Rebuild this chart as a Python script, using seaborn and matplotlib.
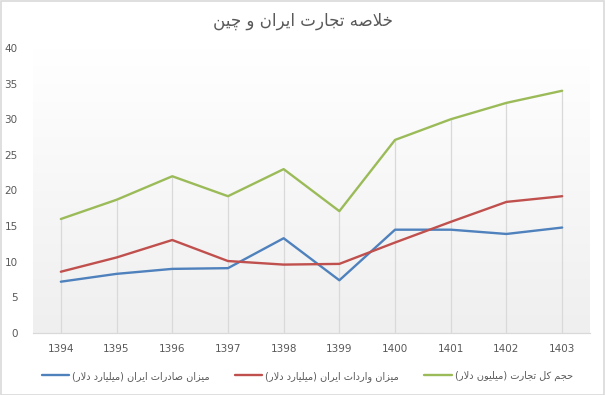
import numpy as np
import pandas as pd
import matplotlib
matplotlib.use("Agg")
import matplotlib.pyplot as plt
from matplotlib.colors import LinearSegmentedColormap
import seaborn as sns

years = ["1394", "1395", "1396", "1397", "1398", "1399", "1400", "1401", "1402", "1403"]
exports = [7.2, 8.3, 9.0, 9.1, 13.3, 7.4, 14.5, 14.5, 13.9, 14.8]
imports = [8.6, 10.6, 13.05, 10.1, 9.6, 9.7, 12.7, 15.6, 18.4, 19.2]
total = [16.0, 18.7, 22.0, 19.2, 23.0, 17.1, 27.1, 30.0, 32.3, 34.0]

title_fa = "خلاصه تجارت ایران و چین"
label_exports = "میزان صادرات ایران (میلیارد دلار)"
label_imports = "میزان واردات ایران (میلیارد دلار)"
label_total = "حجم کل تجارت (میلیون دلار)"

colors = ["#4f81bd", "#c0504d", "#9bbb59"]

# presentation forms: isolated, final, initial, medial (None = right-joining only)
FORMS = {
    "ا": (0xFE8D, 0xFE8E, None, None),
    "ب": (0xFE8F, 0xFE90, 0xFE91, 0xFE92),
    "ت": (0xFE95, 0xFE96, 0xFE97, 0xFE98),
    "ج": (0xFE9D, 0xFE9E, 0xFE9F, 0xFEA0),
    "ح": (0xFEA1, 0xFEA2, 0xFEA3, 0xFEA4),
    "خ": (0xFEA5, 0xFEA6, 0xFEA7, 0xFEA8),
    "د": (0xFEA9, 0xFEAA, None, None),
    "ر": (0xFEAD, 0xFEAE, None, None),
    "ز": (0xFEAF, 0xFEB0, None, None),
    "ص": (0xFEB9, 0xFEBA, 0xFEBB, 0xFEBC),
    "ل": (0xFEDD, 0xFEDE, 0xFEDF, 0xFEE0),
    "م": (0xFEE1, 0xFEE2, 0xFEE3, 0xFEE4),
    "ن": (0xFEE5, 0xFEE6, 0xFEE7, 0xFEE8),
    "ه": (0xFEE9, 0xFEEA, 0xFEEB, 0xFEEC),
    "و": (0xFEED, 0xFEEE, None, None),
    "ی": (0xFBFC, 0xFBFD, 0xFBFE, 0xFBFF),
    "چ": (0xFB7A, 0xFB7B, 0xFB7C, 0xFB7D),
    "ک": (0xFB8E, 0xFB8F, 0xFB90, 0xFB91),
}
LAM_ALEF = (0xFEFB, 0xFEFC)


def shape(text):
    # matplotlib has no arabic shaping/bidi, so do it by hand
    units = []
    i = 0
    while i < len(text):
        if text[i] == "ل" and i + 1 < len(text) and text[i + 1] == "ا":
            units.append("لا")
            i += 2
        else:
            units.append(text[i])
            i += 1

    def joins_next(u):
        return u in FORMS and FORMS[u][2] is not None

    def is_letter(u):
        return u in FORMS or u == "لا"

    out = []
    for k, u in enumerate(units):
        prev = units[k - 1] if k > 0 else None
        nxt = units[k + 1] if k + 1 < len(units) else None
        from_prev = prev is not None and joins_next(prev)
        if u == "لا":
            out.append(chr(LAM_ALEF[1] if from_prev else LAM_ALEF[0]))
            continue
        if u not in FORMS:
            out.append(u)
            continue
        iso, fin, ini, med = FORMS[u]
        to_next = ini is not None and nxt is not None and is_letter(nxt)
        if from_prev and to_next:
            out.append(chr(med))
        elif from_prev:
            out.append(chr(fin))
        elif to_next:
            out.append(chr(ini))
        else:
            out.append(chr(iso))
    vis = "".join(out)[::-1]
    return vis.translate(str.maketrans("()", ")("))


sns.set_theme(style="white")
plt.rcParams["font.family"] = ["DejaVu Sans"]

df = pd.DataFrame({
    "year": years * 3,
    "value": exports + imports + total,
    "series": ["exports"] * 10 + ["imports"] * 10 + ["total"] * 10,
})

fig = plt.figure(figsize=(6.05, 3.95), dpi=100)
fig.patch.set_facecolor("white")
ax = fig.add_axes([33 / 605, 62 / 395, 557 / 605, 285 / 395])

# background gradient of the plot area
grad = LinearSegmentedColormap.from_list("g", ["#efefef", "#ffffff"])
ax.imshow(np.linspace(0, 1, 256).reshape(-1, 1), cmap=grad, aspect="auto",
          extent=[0, 1, 0, 1], transform=ax.transAxes, origin="lower", zorder=0)

# drop lines from the top series
xpos = np.arange(len(years))
ax.vlines(xpos, 0, total, color="#d9d9d9", lw=0.9, zorder=1)

sns.lineplot(data=df, x="year", y="value", hue="series", palette=colors,
             lw=1.7, ax=ax, legend=False, zorder=3, sort=False)

ax.set_xlim(-0.5, len(years) - 0.5)
ax.set_ylim(0, 40)
ax.set_yticks(range(0, 41, 5))
ax.set_xlabel("")
ax.set_ylabel("")
for s in ["top", "right", "left"]:
    ax.spines[s].set_visible(False)
ax.spines["bottom"].set_color("#d9d9d9")
ax.spines["bottom"].set_linewidth(0.9)
ax.tick_params(axis="both", length=0, labelsize=7.5, labelcolor="#595959")
ax.tick_params(axis="y", pad=11)
ax.tick_params(axis="x", pad=8)
ax.grid(False)

fig.text(0.5, 0.948, shape(title_fa), ha="center", va="center",
         fontsize=12, color="#595959")

handles = [plt.Line2D([], [], color=c, lw=1.7) for c in colors]
labels = [shape(label_exports), shape(label_imports), shape(label_total)]
fig.legend(handles, labels, loc="center", bbox_to_anchor=(0.508, 0.048), ncol=3,
           frameon=False, fontsize=7, labelcolor="#595959", handlelength=2.8,
           handletextpad=0.3, columnspacing=2.6)

border = plt.Rectangle((0.001, 0.001), 0.997, 0.997, transform=fig.transFigure,
                       fill=False, edgecolor="#d9d9d9", lw=1.2)
fig.patches.append(border)

fig.savefig("out.png", dpi=100)
